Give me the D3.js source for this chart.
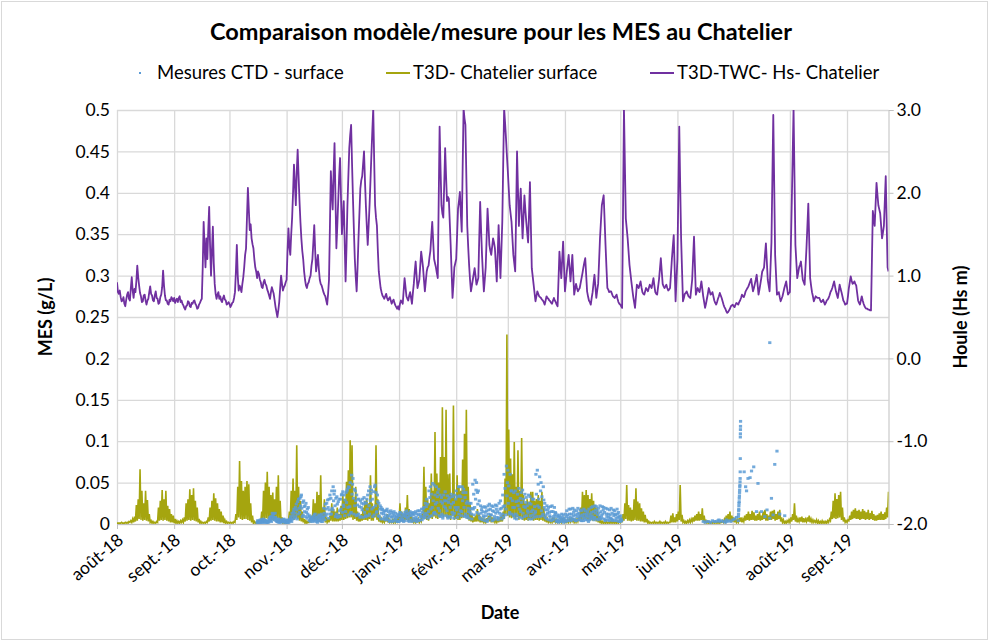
<!DOCTYPE html>
<html>
<head>
<meta charset="utf-8">
<script src="https://cdn.jsdelivr.net/npm/d3@7"></script>
<style>
  body { margin: 0; background: #fff; }
  svg text { font-family: Lato, "Open Sans", sans-serif; fill: #000; }
</style>
</head>
<body>
<svg id="chart" width="990" height="642"></svg>
<script>
// ---------- data ----------
// Daily series start on 1 Aug 2018 (index 0) and end on 23 Sep 2019 (index 418).

// Significant wave height Hs (m), model T3D-TWC, value at 00:00 each day
const hsMidnight = [
  // août-18
  0.92,0.78,0.74,0.70,0.66,0.71,0.80,0.70,0.98,0.73,0.80,1.12,0.88,0.75,0.69,0.77,0.65,0.72,0.87,0.76,0.69,0.81,0.72,0.67,0.77,1.06,0.76,0.70,0.65,0.69,0.72,
  // sept.-18
  0.73,0.70,0.68,0.75,0.70,0.64,0.59,0.64,0.68,0.62,0.66,0.70,0.64,0.61,0.67,0.72,1.65,1.10,1.20,1.83,1.00,1.59,0.90,0.72,0.80,0.75,0.68,0.76,0.70,0.66,
  // oct.-18
  0.66,0.64,0.68,0.80,1.37,0.82,0.85,0.90,1.10,1.33,2.06,1.55,1.45,1.33,1.10,0.97,1.02,0.92,0.85,0.95,0.88,0.80,0.72,0.86,0.78,0.62,0.50,0.68,1.00,0.82,0.88,
  // nov.-18
  0.95,1.57,1.25,1.70,2.34,1.85,2.52,1.90,1.45,1.20,0.95,0.85,0.92,1.00,1.20,1.61,1.05,1.25,0.95,0.88,0.80,0.75,0.65,0.95,2.26,1.80,2.60,1.33,1.90,2.42,
  // déc.-18
  1.50,1.90,0.93,1.85,2.54,2.82,1.93,1.20,0.81,1.45,2.05,2.20,2.50,1.85,1.37,1.85,2.46,3.02,1.85,1.60,1.05,0.85,0.76,0.72,0.78,0.70,0.74,0.66,0.71,0.64,0.60,
  // janv.-19
  0.59,0.70,0.66,0.97,0.75,0.70,0.80,0.66,0.90,1.17,0.85,0.95,1.29,1.10,0.81,1.05,1.12,1.30,1.65,1.20,1.10,0.97,2.80,1.85,1.70,2.54,1.90,1.93,1.37,0.73,1.10,
  // févr.-19
  1.20,1.81,2.01,1.53,3.02,2.82,1.60,1.13,0.81,0.95,1.09,0.89,0.97,1.89,1.25,0.81,1.10,1.81,1.37,1.25,1.45,1.33,0.93,1.61,0.97,1.65,3.02,2.66,
  // mars-19
  2.26,1.85,1.65,1.25,1.05,2.50,1.60,2.05,1.45,1.97,1.65,1.40,2.13,1.09,0.89,0.69,0.81,0.75,0.73,0.70,0.65,0.75,0.72,0.69,0.66,0.73,0.68,0.63,1.29,0.97,1.41,
  // avr.-19
  0.81,1.05,1.25,0.93,1.25,0.77,0.90,0.81,0.85,0.97,1.10,1.21,0.81,0.70,0.65,0.80,1.01,0.73,0.90,1.45,1.85,1.97,1.37,0.85,0.80,0.81,0.75,0.73,0.77,0.68,
  // mai-19
  0.65,0.61,3.02,1.69,1.45,1.13,0.93,0.75,0.61,0.89,0.85,0.93,0.80,0.77,0.85,0.81,0.89,0.85,0.97,0.80,0.77,0.95,1.21,0.90,0.85,0.89,0.82,0.85,1.20,1.49,0.69,
  // juin-19
  1.20,2.80,1.45,0.69,0.78,0.81,0.75,0.73,0.95,1.47,0.77,0.85,0.80,0.93,0.75,0.61,0.72,0.85,0.77,0.80,0.70,0.65,0.72,0.79,0.73,0.65,0.60,0.55,0.58,0.63,
  // juil.-19
  0.65,0.62,0.67,0.65,0.70,0.77,0.74,0.81,0.85,0.90,0.96,0.81,0.90,1.01,0.77,0.90,1.05,1.10,1.39,0.95,0.81,1.40,2.94,1.25,0.77,0.80,0.69,0.75,0.85,0.93,0.77,
  // août-19
  0.80,1.85,3.02,1.37,0.97,1.10,1.17,0.95,0.89,1.33,1.87,0.97,0.80,0.69,0.75,0.73,0.73,0.68,0.71,0.65,0.70,0.73,0.80,0.85,0.93,0.81,0.73,0.89,0.80,0.70,0.65,
  // sept.-19
  0.66,0.85,0.99,0.90,0.93,0.88,0.70,0.65,0.75,0.66,0.61,0.60,0.59,0.58,1.78,1.60,2.12,1.85,1.75,1.45,1.60,2.20,1.10
];

// Significant wave height Hs (m), value at 12:00 each day
const hsNoon = [
  0.80,0.82,0.69,0.74,0.63,0.77,0.72,0.85,0.82,0.84,0.93,0.98,0.79,0.68,0.76,0.70,0.70,0.80,0.78,0.70,0.76,0.73,0.66,0.74,0.86,0.88,0.70,0.66,0.71,0.74,0.69,
  0.67,0.72,0.73,0.68,0.66,0.61,0.63,0.69,0.63,0.67,0.69,0.66,0.60,0.65,0.70,1.10,1.35,1.45,1.55,1.35,1.30,1.15,0.78,0.77,0.72,0.70,0.73,0.71,0.65,0.68,
  0.62,0.67,0.73,1.05,1.00,0.88,0.80,0.98,1.25,1.70,1.80,1.62,1.38,1.20,1.05,1.05,0.95,0.86,0.92,0.90,0.83,0.76,0.80,0.82,0.70,0.56,0.58,0.85,0.90,0.86,0.92,
  1.30,1.35,1.50,2.00,2.10,2.25,2.20,1.65,1.30,1.05,0.88,0.90,0.97,1.12,1.40,1.30,1.15,1.08,0.90,0.84,0.77,0.70,0.78,1.60,2.00,2.25,1.95,1.60,2.20,1.95,
  1.70,1.40,1.35,2.20,2.70,2.35,1.55,0.98,1.10,1.75,2.15,2.35,2.15,1.60,1.60,2.15,2.75,2.40,1.70,1.30,0.95,0.80,0.74,0.75,0.73,0.72,0.70,0.69,0.67,0.62,0.63,
  0.66,0.68,0.82,0.86,0.72,0.76,0.73,0.79,1.05,1.00,0.90,1.12,1.20,0.95,0.93,1.10,1.22,1.48,1.42,1.15,1.03,1.90,2.30,1.75,2.10,2.20,1.95,1.65,1.05,0.90,1.15,
  1.50,1.90,1.75,2.30,2.90,2.20,1.35,0.95,0.88,1.02,0.99,0.93,1.45,1.55,1.02,0.95,1.45,1.60,1.30,1.35,1.40,1.13,1.25,1.30,1.30,2.35,2.85,2.45,
  2.05,1.75,1.45,1.15,1.75,2.05,1.85,1.75,1.70,1.80,1.52,1.75,1.60,0.99,0.79,0.75,0.78,0.74,0.71,0.68,0.70,0.73,0.70,0.67,0.70,0.70,0.65,0.95,1.13,1.20,1.10,
  0.93,1.15,1.09,1.09,1.01,0.84,0.85,0.83,0.91,1.03,1.16,1.01,0.75,0.68,0.73,0.91,0.87,0.82,1.17,1.65,1.91,1.67,1.10,0.83,0.81,0.78,0.74,0.75,0.72,0.66,
  0.63,1.80,2.35,1.57,1.29,1.03,0.84,0.68,0.75,0.87,0.89,0.86,0.78,0.81,0.83,0.85,0.87,0.91,0.88,0.78,0.86,1.08,1.05,0.87,0.87,0.85,0.83,1.02,1.35,1.09,0.95,
  2.00,2.10,1.07,0.73,0.79,0.78,0.74,0.84,1.21,1.12,0.81,0.82,0.86,0.84,0.68,0.66,0.78,0.81,0.78,0.75,0.67,0.68,0.75,0.76,0.69,0.62,0.57,0.56,0.60,0.64,
  0.63,0.65,0.66,0.68,0.73,0.75,0.77,0.83,0.87,0.93,0.88,0.85,0.95,0.89,0.83,0.97,1.07,1.25,1.17,0.88,1.10,2.17,2.10,1.01,0.78,0.74,0.72,0.80,0.89,0.85,0.79,
  1.32,2.43,2.20,1.17,1.03,1.13,1.06,0.92,1.11,1.60,1.42,0.88,0.75,0.72,0.74,0.73,0.70,0.69,0.68,0.67,0.71,0.76,0.82,0.89,0.87,0.77,0.81,0.84,0.75,0.68,0.66,
  0.75,0.92,0.94,0.91,0.90,0.79,0.67,0.70,0.70,0.63,0.60,0.59,0.58,1.18,1.69,1.86,1.98,1.80,1.60,1.52,1.90,1.65,1.05
];

// Modelled surface SPM (g/L), T3D Chatelier: daily tidal peak
const mesModelPeak = [
  0.001,0.001,0.002,0.001,0.002,0.002,0.003,0.004,0.006,0.009,
  0.023,0.030,0.066,0.040,0.025,0.040,0.029,0.012,0.004,0.003,
  0.002,0.003,0.020,0.028,0.041,0.030,0.040,0.022,0.018,0.012,
  0.010,0.006,0.004,0.003,0.004,0.005,0.008,0.025,0.030,0.042,
  0.035,0.043,0.028,0.020,0.006,0.003,0.002,0.002,0.003,0.008,
  0.020,0.028,0.037,0.031,0.025,0.018,0.015,0.010,0.005,0.003,
  0.002,0.002,0.002,0.003,0.012,0.045,0.076,0.052,0.040,0.045,
  0.052,0.048,0.025,0.010,0.003,0.002,0.002,0.003,0.015,0.040,
  0.050,0.063,0.045,0.035,0.038,0.030,0.045,0.059,0.028,0.008,
  0.003,0.002,0.003,0.015,0.040,0.055,0.040,0.095,0.045,0.028,
  0.015,0.006,0.004,0.003,0.005,0.010,0.030,0.025,0.039,0.035,
  0.059,0.020,0.030,0.008,0.005,0.010,0.025,0.018,0.015,0.020,
  0.012,0.022,0.035,0.030,0.051,0.065,0.101,0.095,0.030,0.045,
  0.015,0.010,0.012,0.020,0.028,0.030,0.025,0.059,0.025,0.020,
  0.095,0.030,0.010,0.006,0.004,0.008,0.012,0.006,0.004,0.005,
  0.007,0.005,0.010,0.025,0.015,0.012,0.020,0.035,0.018,0.010,
  0.006,0.005,0.007,0.006,0.005,0.012,0.069,0.045,0.030,0.025,
  0.061,0.040,0.111,0.061,0.050,0.081,0.141,0.081,0.138,0.060,
  0.061,0.035,0.143,0.030,0.059,0.045,0.040,0.078,0.109,0.138,
  0.045,0.025,0.012,0.008,0.010,0.018,0.012,0.008,0.006,0.005,
  0.007,0.010,0.012,0.008,0.006,0.005,0.006,0.008,0.010,0.015,
  0.055,0.229,0.114,0.079,0.060,0.099,0.045,0.089,0.040,0.104,
  0.035,0.025,0.030,0.027,0.039,0.039,0.028,0.030,0.035,0.028,
  0.039,0.020,0.010,0.006,0.004,0.005,0.008,0.006,0.005,0.004,
  0.005,0.007,0.006,0.004,0.005,0.006,0.008,0.007,0.005,0.006,
  0.008,0.020,0.039,0.035,0.041,0.035,0.030,0.037,0.028,0.023,
  0.019,0.010,0.004,0.003,0.002,0.003,0.002,0.003,0.004,0.003,
  0.002,0.003,0.004,0.006,0.012,0.025,0.047,0.023,0.020,0.017,
  0.030,0.043,0.027,0.025,0.019,0.015,0.011,0.006,0.003,0.002,
  0.002,0.003,0.002,0.002,0.003,0.002,0.002,0.003,0.002,0.002,
  0.010,0.013,0.008,0.012,0.015,0.047,0.011,0.004,0.003,0.004,
  0.005,0.006,0.008,0.010,0.012,0.015,0.012,0.019,0.010,0.004,
  0.003,0.002,0.002,0.002,0.003,0.002,0.002,0.003,0.004,0.006,
  0.010,0.012,0.015,0.010,0.008,0.006,0.005,0.007,0.008,0.006,
  0.010,0.012,0.015,0.012,0.016,0.014,0.010,0.012,0.015,0.010,
  0.015,0.017,0.012,0.010,0.015,0.016,0.017,0.012,0.015,0.017,
  0.008,0.005,0.003,0.004,0.005,0.008,0.012,0.025,0.010,0.006,
  0.008,0.009,0.007,0.006,0.008,0.010,0.006,0.005,0.004,0.005,
  0.004,0.003,0.004,0.003,0.003,0.004,0.006,0.015,0.028,0.037,
  0.030,0.035,0.039,0.020,0.008,0.004,0.005,0.010,0.015,0.017,
  0.019,0.016,0.017,0.015,0.018,0.016,0.014,0.017,0.013,0.016,
  0.012,0.010,0.011,0.013,0.015,0.012,0.014,0.020,0.039
];

// Modelled surface SPM (g/L), T3D Chatelier: daily tidal trough
const mesModelTrough = [
  0.001,0.001,0.001,0.001,0.001,0.001,0.001,0.002,0.002,0.002,
  0.003,0.004,0.006,0.005,0.004,0.005,0.004,0.003,0.002,0.001,
  0.001,0.001,0.002,0.004,0.005,0.004,0.005,0.004,0.003,0.002,
  0.002,0.001,0.001,0.001,0.001,0.002,0.002,0.003,0.004,0.005,
  0.004,0.005,0.004,0.003,0.002,0.001,0.001,0.001,0.001,0.002,
  0.003,0.004,0.005,0.004,0.003,0.003,0.002,0.002,0.001,0.001,
  0.001,0.001,0.001,0.001,0.002,0.005,0.008,0.006,0.005,0.006,
  0.006,0.005,0.004,0.002,0.001,0.001,0.001,0.001,0.003,0.005,
  0.006,0.007,0.006,0.005,0.005,0.004,0.006,0.007,0.004,0.002,
  0.001,0.001,0.001,0.002,0.005,0.006,0.005,0.008,0.006,0.004,
  0.003,0.002,0.001,0.001,0.002,0.002,0.004,0.004,0.005,0.005,
  0.006,0.004,0.004,0.002,0.002,0.002,0.004,0.003,0.003,0.003,
  0.003,0.004,0.005,0.005,0.006,0.007,0.008,0.008,0.005,0.006,
  0.004,0.003,0.003,0.004,0.005,0.005,0.004,0.006,0.004,0.004,
  0.008,0.005,0.003,0.002,0.002,0.002,0.003,0.002,0.002,0.002,
  0.002,0.002,0.003,0.004,0.003,0.003,0.004,0.005,0.003,0.003,
  0.002,0.002,0.002,0.002,0.002,0.003,0.007,0.006,0.005,0.004,
  0.007,0.006,0.009,0.007,0.006,0.008,0.010,0.008,0.010,0.007,
  0.007,0.005,0.010,0.005,0.006,0.005,0.005,0.007,0.008,0.009,
  0.006,0.004,0.003,0.002,0.003,0.003,0.003,0.002,0.002,0.002,
  0.002,0.003,0.003,0.002,0.002,0.002,0.002,0.002,0.003,0.003,
  0.006,0.012,0.010,0.008,0.007,0.008,0.006,0.008,0.005,0.008,
  0.005,0.004,0.005,0.004,0.005,0.005,0.004,0.005,0.005,0.004,
  0.005,0.004,0.003,0.002,0.002,0.002,0.002,0.002,0.002,0.002,
  0.002,0.002,0.002,0.002,0.002,0.002,0.003,0.002,0.002,0.002,
  0.003,0.004,0.005,0.005,0.006,0.005,0.005,0.005,0.004,0.004,
  0.003,0.002,0.001,0.001,0.001,0.001,0.001,0.001,0.001,0.001,
  0.001,0.001,0.001,0.002,0.002,0.004,0.006,0.004,0.004,0.003,
  0.004,0.005,0.004,0.004,0.003,0.003,0.002,0.002,0.001,0.001,
  0.001,0.001,0.001,0.001,0.001,0.001,0.001,0.001,0.001,0.001,
  0.002,0.002,0.002,0.002,0.003,0.005,0.003,0.002,0.001,0.001,
  0.002,0.002,0.003,0.003,0.004,0.004,0.004,0.005,0.003,0.002,
  0.001,0.001,0.001,0.001,0.001,0.001,0.001,0.001,0.002,0.002,
  0.003,0.003,0.004,0.003,0.003,0.002,0.002,0.002,0.003,0.002,
  0.003,0.004,0.005,0.004,0.005,0.005,0.004,0.004,0.005,0.004,
  0.005,0.006,0.004,0.004,0.005,0.005,0.006,0.004,0.005,0.006,
  0.003,0.002,0.001,0.001,0.002,0.002,0.003,0.005,0.003,0.002,
  0.003,0.003,0.002,0.002,0.003,0.003,0.002,0.002,0.002,0.002,
  0.001,0.001,0.001,0.001,0.001,0.001,0.002,0.004,0.006,0.007,
  0.006,0.007,0.008,0.005,0.003,0.002,0.002,0.004,0.005,0.006,
  0.007,0.006,0.006,0.005,0.006,0.006,0.005,0.006,0.005,0.006,
  0.005,0.004,0.004,0.005,0.005,0.005,0.005,0.006,0.008
];

// CTD surface measurements (g/L), four readings a day (00h, 06h, 12h, 18h) from day 76 (16 Oct 2018)
const ctdFirstDay = 76;
const ctd00h = [
  0.002,0.004,0.001,0.003,0.005,0.002,0.003,0.008,0.006,0.012,
  0.008,0.003,0.004,0.002,0.005,0.003,0.002,0.005,0.004,0.013,
  0.018,0.009,0.027,0.014,0.035,0.011,0.022,0.007,0.009,0.003,
  0.006,0.011,0.003,0.009,0.004,0.012,0.008,0.024,0.012,0.030,
  0.031,0.017,0.040,0.012,0.027,0.009,0.036,0.021,0.015,0.042,
  0.044,0.014,0.055,0.022,0.035,0.012,0.028,0.017,0.032,0.009,
  0.035,0.012,0.041,0.020,0.047,0.015,0.025,0.006,0.018,0.008,
  0.016,0.005,0.012,0.014,0.004,0.013,0.008,0.003,0.013,0.006,
  0.004,0.016,0.008,0.015,0.003,0.011,0.015,0.006,0.016,0.009,
  0.018,0.008,0.030,0.015,0.045,0.020,0.047,0.012,0.038,0.016,
  0.032,0.010,0.039,0.016,0.030,0.008,0.033,0.013,0.040,0.020,
  0.045,0.015,0.042,0.012,0.027,0.007,0.025,0.048,0.020,0.050,
  0.040,0.006,0.020,0.008,0.020,0.005,0.024,0.011,0.021,0.006,
  0.022,0.007,0.028,0.012,0.060,0.018,0.065,0.014,0.040,0.010,
  0.040,0.010,0.043,0.015,0.041,0.009,0.032,0.014,0.033,0.006,
  0.030,0.015,0.065,0.020,0.050,0.012,0.025,0.006,0.020,0.008,
  0.022,0.006,0.013,0.004,0.010,0.003,0.011,0.005,0.016,0.004,
  0.018,0.005,0.017,0.004,0.019,0.006,0.016,0.004,0.016,0.005,
  0.018,0.006,0.021,0.008,0.021,0.005,0.022,0.007,0.020,0.005,
  0.018,0.004,0.019,0.005,0.016,0.004,0.014,0.003
];
const ctd06h = [
  0.004,0.002,0.003,0.006,0.002,0.004,0.002,0.004,0.013,0.007,
  0.004,0.005,0.002,0.004,0.003,0.005,0.004,0.002,0.009,0.006,
  0.007,0.024,0.012,0.031,0.019,0.028,0.009,0.018,0.004,0.007,
  0.003,0.005,0.008,0.004,0.010,0.006,0.019,0.010,0.029,0.017,
  0.012,0.045,0.022,0.033,0.010,0.030,0.014,0.035,0.038,0.020,
  0.021,0.059,0.031,0.040,0.011,0.030,0.009,0.030,0.014,0.025,
  0.010,0.045,0.018,0.039,0.022,0.035,0.009,0.020,0.006,0.016,
  0.006,0.015,0.004,0.009,0.015,0.005,0.012,0.010,0.004,0.012,
  0.014,0.007,0.013,0.005,0.012,0.004,0.008,0.016,0.005,0.018,
  0.007,0.025,0.011,0.040,0.018,0.049,0.014,0.045,0.019,0.035,
  0.012,0.035,0.019,0.034,0.009,0.036,0.011,0.035,0.017,0.045,
  0.016,0.045,0.020,0.038,0.010,0.025,0.012,0.018,0.053,0.014,
  0.012,0.022,0.005,0.021,0.010,0.022,0.007,0.022,0.005,0.023,
  0.008,0.025,0.010,0.035,0.022,0.070,0.025,0.060,0.012,0.038,
  0.012,0.036,0.018,0.038,0.013,0.036,0.010,0.035,0.010,0.030,
  0.008,0.060,0.022,0.057,0.016,0.045,0.008,0.022,0.005,0.021,
  0.005,0.020,0.003,0.011,0.003,0.012,0.002,0.012,0.004,0.018,
  0.004,0.019,0.006,0.016,0.005,0.017,0.004,0.018,0.005,0.015,
  0.005,0.020,0.007,0.022,0.006,0.019,0.006,0.021,0.006,0.019,
  0.005,0.017,0.006,0.017,0.004,0.018,0.003,0.010
];
const ctd12h = [
  0.001,0.003,0.005,0.002,0.004,0.001,0.005,0.009,0.010,0.005,
  0.006,0.002,0.005,0.003,0.006,0.002,0.003,0.004,0.006,0.010,
  0.013,0.017,0.030,0.022,0.009,0.021,0.025,0.012,0.010,0.005,
  0.009,0.012,0.005,0.011,0.007,0.003,0.013,0.018,0.020,0.035,
  0.040,0.028,0.009,0.024,0.030,0.018,0.039,0.010,0.026,0.045,
  0.050,0.036,0.012,0.028,0.023,0.021,0.020,0.008,0.026,0.030,
  0.040,0.028,0.030,0.011,0.038,0.027,0.018,0.013,0.012,0.005,
  0.018,0.010,0.016,0.003,0.010,0.009,0.003,0.014,0.009,0.003,
  0.009,0.012,0.003,0.010,0.014,0.013,0.003,0.011,0.012,0.005,
  0.020,0.013,0.024,0.009,0.036,0.028,0.035,0.026,0.042,0.009,
  0.025,0.021,0.028,0.007,0.032,0.024,0.026,0.020,0.033,0.012,
  0.033,0.028,0.009,0.025,0.019,0.014,0.006,0.036,0.030,0.038,
  0.028,0.013,0.015,0.004,0.016,0.012,0.018,0.004,0.015,0.013,
  0.015,0.013,0.019,0.021,0.043,0.034,0.046,0.031,0.028,0.020,
  0.027,0.022,0.008,0.026,0.030,0.020,0.022,0.006,0.024,0.017,
  0.021,0.036,0.048,0.009,0.033,0.029,0.017,0.013,0.014,0.004,
  0.015,0.011,0.009,0.002,0.007,0.008,0.007,0.003,0.011,0.012,
  0.012,0.010,0.011,0.009,0.013,0.010,0.011,0.012,0.010,0.009,
  0.012,0.014,0.015,0.013,0.016,0.013,0.015,0.012,0.014,0.012,
  0.012,0.011,0.013,0.010,0.011,0.012,0.009,0.006
];
const ctd18h = [
  0.003,0.005,0.002,0.004,0.003,0.003,0.006,0.003,0.008,0.013,
  0.003,0.006,0.003,0.005,0.002,0.004,0.001,0.006,0.003,0.015,
  0.020,0.006,0.019,0.033,0.026,0.015,0.014,0.020,0.006,0.008,
  0.004,0.007,0.002,0.006,0.003,0.009,0.005,0.025,0.007,0.012,
  0.019,0.036,0.031,0.008,0.016,0.035,0.023,0.029,0.040,0.011,
  0.013,0.048,0.042,0.010,0.030,0.008,0.025,0.024,0.010,0.018,
  0.022,0.037,0.009,0.045,0.014,0.010,0.022,0.017,0.015,0.011,
  0.009,0.003,0.008,0.012,0.007,0.003,0.010,0.006,0.005,0.010,
  0.012,0.004,0.010,0.013,0.007,0.006,0.012,0.004,0.009,0.014,
  0.011,0.021,0.007,0.032,0.010,0.013,0.024,0.033,0.010,0.027,
  0.007,0.028,0.010,0.026,0.020,0.014,0.007,0.030,0.008,0.034,
  0.010,0.038,0.032,0.008,0.015,0.018,0.019,0.011,0.041,0.024,
  0.008,0.017,0.010,0.014,0.003,0.017,0.011,0.016,0.009,0.018,
  0.005,0.018,0.006,0.008,0.011,0.050,0.012,0.040,0.020,0.007,
  0.006,0.028,0.031,0.007,0.021,0.026,0.016,0.025,0.015,0.011,
  0.013,0.009,0.030,0.040,0.010,0.020,0.011,0.017,0.010,0.015,
  0.009,0.014,0.005,0.008,0.005,0.005,0.004,0.009,0.007,0.008,
  0.007,0.014,0.004,0.012,0.009,0.004,0.008,0.007,0.012,0.003,
  0.009,0.010,0.005,0.017,0.011,0.008,0.010,0.017,0.004,0.009,
  0.008,0.007,0.004,0.012,0.007,0.008,0.006,0.004
];

// Summer CTD readings (irregular): day index since 1 Aug 2018, and SPM (g/L)
const ctdSummerDay = [
  318,319,320,321,322,323,324,325,326,326.5,327,328,329,330,330.5,331,332,333,334,335,336,
  337.0,337.08,337.15,337.22,337.28,337.35,337.41,337.5,337.56,337.63,337.7,337.76,337.83,337.9,337.96,
  338.02,338.06,338.1,338.13,338.16,338.19,338.22,338.25,
  340.2,341.0,341.5,342.3,343.4,344.2,345.4,346.9,347.7,349.6,351.4,352.6,354.1,354.1,355.0,355.9,356.8,358.0,359.5,362.2
];
const ctdSummerValue = [
  0.003,0.002,0.003,0.003,0.002,0.004,0.003,0.003,0.004,0.005,0.003,0.004,0.003,0.002,0.005,0.003,0.004,0.003,0.005,0.006,0.008,
  0.004,0.009,0.012,0.016,0.018,0.022,0.025,0.027,0.031,0.034,0.038,0.041,0.045,0.047,0.051,
  0.055,0.063,0.079,0.105,0.109,0.114,0.118,0.124,
  0.063,0.045,0.040,0.055,0.056,0.064,0.069,0.015,0.049,0.015,0.009,0.017,0.007,0.219,0.031,0.011,0.072,0.088,0.012,0.010
];

// Axis ticks and labels
const mesTicks = [0,0.05,0.1,0.15,0.2,0.25,0.3,0.35,0.4,0.45,0.5];
const hsTicks = [-2,-1,0,1,2,3];
const monthLabels = ["août-18","sept.-18","oct.-18","nov.-18","déc.-18","janv.-19","févr.-19",
                     "mars-19","avr.-19","mai-19","juin-19","juil.-19","août-19","sept.-19"];
const seriesNames = ["Mesures CTD - surface","T3D- Chatelier surface","T3D-TWC- Hs- Chatelier"];
const seriesColors = ["#5b9bd5","#a5a50f","#7030a0"];

// ---------- layout ----------
const W = 990, H = 642;
const plot = {left: 117, right: 888.5, top: 110, bottom: 524};
const dayMs = 864e5;
const t0 = Date.UTC(2018, 7, 1);
const toDate = d => new Date(t0 + d * dayMs);

const x = d3.scaleUtc().domain([toDate(0), toDate(418.5)]).range([plot.left, plot.right]);
const yMes = d3.scaleLinear().domain([0, 0.5]).range([plot.bottom, plot.top]);
const yHs = d3.scaleLinear().domain([-2, 3]).range([plot.bottom, plot.top]);
const monthTicks = monthLabels.map((_, i) => new Date(Date.UTC(2018, 7 + i, 1)));

const svg = d3.select("#chart");

// frame
svg.append("rect").attr("x", 1.5).attr("y", 1.5).attr("width", W - 4).attr("height", H - 4)
  .attr("fill", "#fff").attr("stroke", "#d9d9d9").attr("stroke-width", 1);

svg.append("defs").append("clipPath").attr("id", "plotClip")
  .append("rect").attr("x", plot.left).attr("y", plot.top)
  .attr("width", plot.right - plot.left).attr("height", plot.bottom - plot.top);

// gridlines
const grid = svg.append("g").attr("class", "grid");
grid.append("g").attr("transform", `translate(0,${plot.bottom})`)
  .call(d3.axisBottom(x).tickValues(monthTicks).tickSize(-(plot.bottom - plot.top)).tickFormat(""))
  .call(g => g.select(".domain").remove());
grid.append("g").attr("transform", `translate(${plot.left},0)`)
  .call(d3.axisLeft(yMes).tickValues(mesTicks).tickSize(-(plot.right - plot.left)).tickFormat(""))
  .call(g => g.select(".domain").remove());
grid.selectAll("line").attr("stroke", "#d9d9d9").attr("stroke-width", 1.3);

// x axis
const xAxis = svg.append("g").attr("transform", `translate(0,${plot.bottom})`)
  .call(d3.axisBottom(x).tickValues(monthTicks).tickSize(5).tickFormat((d, i) => monthLabels[i]));
xAxis.select(".domain").attr("stroke", "#bfbfbf");
xAxis.selectAll(".tick line").attr("stroke", "#bfbfbf");
xAxis.selectAll(".tick text")
  .attr("font-size", 17.5).attr("text-anchor", "end")
  .attr("dy", 0).attr("y", 0)
  .attr("transform", "translate(7,18) rotate(-40)");

// left axis
const yAxisL = svg.append("g").attr("transform", `translate(${plot.left},0)`)
  .call(d3.axisLeft(yMes).tickValues(mesTicks).tickSize(0).tickPadding(7).tickFormat(d => String(d)));
yAxisL.select(".domain").remove();
yAxisL.selectAll("text").attr("font-size", 17.5);

// right axis
const yAxisR = svg.append("g").attr("transform", `translate(${plot.right},0)`)
  .call(d3.axisRight(yHs).tickValues(hsTicks).tickSize(5).tickPadding(3).tickFormat(d => d.toFixed(1)));
yAxisR.select(".domain").attr("stroke", "#bfbfbf");
yAxisR.selectAll(".tick line").attr("stroke", "#bfbfbf");
yAxisR.selectAll("text").attr("font-size", 17.5);

// series
const series = svg.append("g").attr("clip-path", "url(#plotClip)");

// model SPM: trough then peak for each day
const modelPts = [];
mesModelPeak.forEach((v, i) => {
  modelPts.push([i, mesModelTrough[i]]);
  modelPts.push([i + 0.5, v]);
});
series.append("path")
  .attr("d", d3.line().x(d => x(toDate(d[0]))).y(d => yMes(d[1]))(modelPts))
  .attr("fill", "none").attr("stroke", seriesColors[1]).attr("stroke-width", 1.6);

// CTD measurements
const ctdPts = [];
ctd00h.forEach((v, i) => {
  const d = ctdFirstDay + i;
  ctdPts.push([d, v]);
  ctdPts.push([d + 0.25, ctd06h[i]]);
  ctdPts.push([d + 0.5, ctd12h[i]]);
  ctdPts.push([d + 0.75, ctd18h[i]]);
});
ctdSummerDay.forEach((d, i) => ctdPts.push([d, ctdSummerValue[i]]));
series.append("g").selectAll("rect").data(ctdPts).join("rect")
  .attr("x", d => x(toDate(d[0])) - 1.6).attr("y", d => yMes(d[1]) - 1.4)
  .attr("width", 3.2).attr("height", 2.8)
  .attr("fill", seriesColors[0]).attr("opacity", 0.85);

// wave height, two values a day
const hsPts = [];
hsMidnight.forEach((v, i) => {
  hsPts.push([i, v]);
  hsPts.push([i + 0.5, hsNoon[i]]);
});
series.append("path")
  .attr("d", d3.line().x(d => x(toDate(d[0]))).y(d => yHs(d[1]))(hsPts))
  .attr("fill", "none").attr("stroke", seriesColors[2]).attr("stroke-width", 1.8)
  .attr("stroke-linejoin", "round");

// titles
svg.append("text").attr("x", 501).attr("y", 40).attr("text-anchor", "middle")
  .attr("font-size", 23.5).attr("font-weight", "bold")
  .text("Comparaison modèle/mesure pour les MES au Chatelier");
svg.append("text").attr("x", 500).attr("y", 619).attr("text-anchor", "middle")
  .attr("font-size", 18).attr("font-weight", "bold").text("Date");
svg.append("text").attr("transform", "translate(52,317) rotate(-90)").attr("text-anchor", "middle")
  .attr("font-size", 18).attr("font-weight", "bold").text("MES (g/L)");
svg.append("text").attr("transform", "translate(967,317) rotate(-90)").attr("text-anchor", "middle")
  .attr("font-size", 18).attr("font-weight", "bold").text("Houle (Hs m)");

// legend
const legend = svg.append("g");
const legendY = 73;
legend.append("rect").attr("x", 139).attr("y", legendY - 1).attr("width", 2).attr("height", 2)
  .attr("fill", seriesColors[0]);
legend.append("text").attr("x", 157).attr("y", legendY + 6).attr("font-size", 18.5).text(seriesNames[0]);
legend.append("line").attr("x1", 386).attr("x2", 410).attr("y1", legendY).attr("y2", legendY)
  .attr("stroke", seriesColors[1]).attr("stroke-width", 2);
legend.append("text").attr("x", 413).attr("y", legendY + 6).attr("font-size", 18.5).text(seriesNames[1]);
legend.append("line").attr("x1", 650).attr("x2", 674).attr("y1", legendY).attr("y2", legendY)
  .attr("stroke", seriesColors[2]).attr("stroke-width", 2);
legend.append("text").attr("x", 677).attr("y", legendY + 6).attr("font-size", 18.5).text(seriesNames[2]);
</script>
</body>
</html>
